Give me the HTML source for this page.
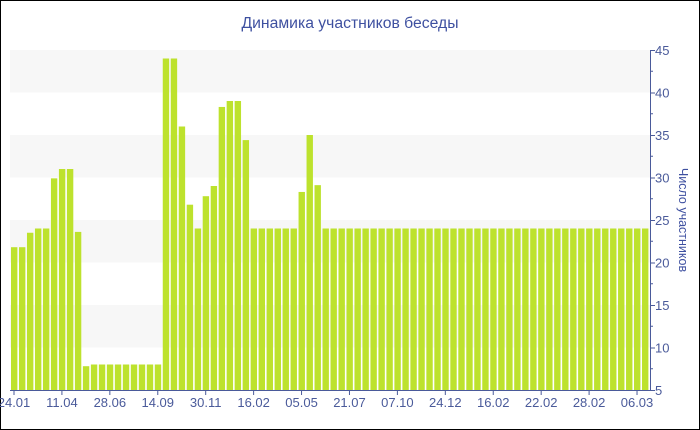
<!DOCTYPE html>
<html><head><meta charset="utf-8"><style>
html,body{margin:0;padding:0;background:#fff;}
svg{display:block;font-family:"Liberation Sans","DejaVu Sans",sans-serif;}
</style></head><body>
<svg id="c" width="700" height="430" viewBox="0 0 700 430" xmlns="http://www.w3.org/2000/svg">
<rect x="0.5" y="0.5" width="699" height="429" fill="#fff" stroke="#000" stroke-width="1"/>
<g fill="#f7f7f7">
<rect x="10" y="50" width="640" height="42.5"/>
<rect x="10" y="135" width="640" height="42.5"/>
<rect x="10" y="220" width="640" height="42.5"/>
<rect x="10" y="305" width="640" height="42.5"/>
</g>
<g id="bars" fill="#bde22d"></g>
<text x="350" y="28" text-anchor="middle" font-size="15.5" fill="#3e50a0" textLength="217" lengthAdjust="spacingAndGlyphs">Динамика участников беседы</text>
<line x1="650.5" y1="50" x2="650.5" y2="390.5" stroke="#4a5a9a" stroke-width="1"/>
<line x1="10" y1="390.5" x2="651" y2="390.5" stroke="#4a5a9a" stroke-width="1"/>
<g id="yt" fill="#4a5a9a" font-size="13"></g>
<g id="xt" fill="#4a5a9a" font-size="13"></g>
<text transform="translate(679,220) rotate(90)" text-anchor="middle" font-size="12.5" fill="#3e50a0">Число участников</text>
</svg>
<script>
var v=[21.8,21.8,23.5,24,24,29.9,31,31,23.6,7.8,8,8,8,8,8,8,8,8,8,44,44,36,26.8,24,27.8,29,38.3,39,39,34.4,24,24,24,24,24,24,28.3,35,29.1];
while(v.length<80)v.push(24);
var ns="http://www.w3.org/2000/svg",g=document.getElementById('bars');
function el(t,a,p,txt){var e=document.createElementNS(ns,t);for(var k in a)e.setAttribute(k,a[k]);if(txt)e.textContent=txt;p.appendChild(e);return e;}
var pitch=639/80;
for(var i=0;i<80;i++){var x=11+i*pitch,y=390-(v[i]-5)*8.5;el('rect',{x:x.toFixed(2),y:y.toFixed(2),width:(pitch-1.6).toFixed(2),height:(390-y).toFixed(2)},g);}
var yt=document.getElementById('yt');
for(var k=5;k<=45;k+=5){var y=390-(k-5)*8.5;el('line',{x1:650,x2:655,y1:y+0.5,y2:y+0.5,stroke:'#4a5a9a'},yt);el('text',{x:655,y:y+5},yt,String(k));
if(k<45){var y2=y-21.25;el('line',{x1:650,x2:653,y1:y2,y2:y2,stroke:'#4a5a9a'},yt);}}
var lab=['24.01','11.04','28.06','14.09','30.11','16.02','05.05','21.07','07.10','24.12','16.02','22.02','28.02','06.03'];
var xt=document.getElementById('xt');
for(var j=0;j<lab.length;j++){var cx=11+j*6*pitch+pitch/2-1;el('line',{x1:cx,x2:cx,y1:390,y2:395,stroke:'#4a5a9a'},xt);el('text',{x:cx,y:407,'text-anchor':'middle'},xt,lab[j]);}
</script>
</body></html>
